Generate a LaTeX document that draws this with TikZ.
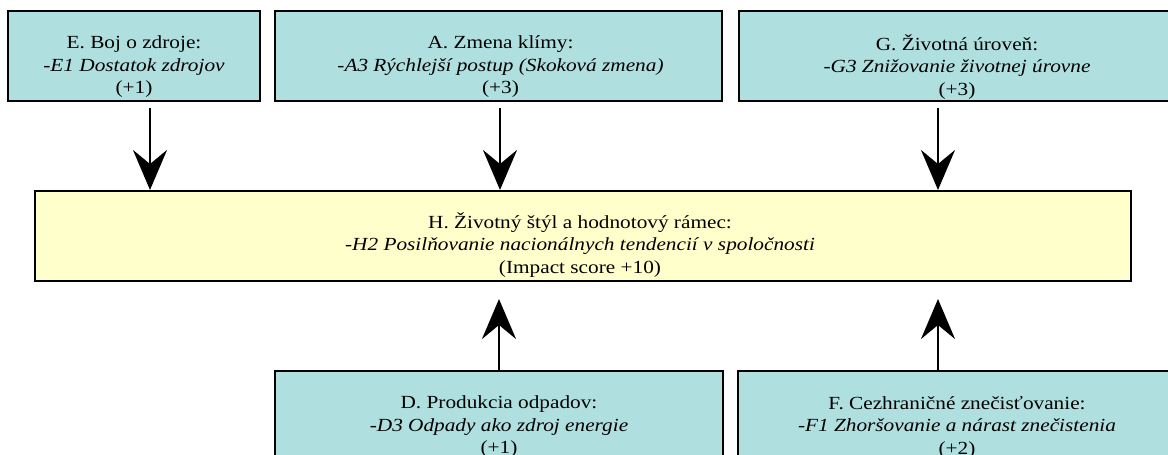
\documentclass[tikz,border=0pt]{standalone}
\usepackage{fontspec}
\setmainfont[FakeStretch=1.15]{Liberation Serif}
\usepackage{tikz}
\usetikzlibrary{arrows.meta,positioning,calc}
\definecolor{factor}{HTML}{B0DFDF}
\definecolor{core}{HTML}{FFFFCC}
\tikzset{
  factorbox/.style={draw=black, line width=2pt, fill=factor, minimum height=90pt, inner sep=0pt},
  corebox/.style={draw=black, line width=2pt, fill=core, minimum height=90pt, inner sep=0pt},
  boxtext/.style={align=center, inner sep=0pt, font=\fontsize{18.5}{22.5}\selectfont},
  impactarr/.style={-{Stealth[length=40pt, width=34pt, inset=14pt]}, line width=2.6pt}
}

\begin{document}
\begin{tikzpicture}[x=1pt, y=1pt]
  \useasboundingbox (0,0) rectangle (1168,-455);
  \clip (0,0) rectangle (1168,-455);
  % Upper factors
  \node[factorbox, minimum width=252pt] (e) at (134,-56) {};
  \node[factorbox, minimum width=447pt] (a) at (498.5,-56) {};
  \node[factorbox, minimum width=436pt] (g) at (957,-56) {};
  \node[boxtext] (etext) at ([yshift=-11pt]e.center) {E. Boj o zdroje:\\ \textit{-E1 Dostatok zdrojov}\\ (+1)};
  \node[boxtext] (atext) at ([xshift=2pt,yshift=-11pt]a.center) {A. Zmena klímy:\\ \textit{-A3 Rýchlejší postup (Skoková zmena)}\\ (+3)};
  \node[boxtext] (gtext) at ([yshift=-11pt]g.center) {G. Životná úroveň:\\ \textit{-G3 Znižovanie životnej úrovne}\\ (+3)};

  % Core (H)
  \node[corebox, minimum width=1096pt] (h) at (583,-236) {};
  \node[boxtext] (htext) at ([xshift=-3pt,yshift=-9pt]h.center) {H. Životný štýl a hodnotový rámec:\\ \textit{-H2 Posilňovanie nacionálnych tendencií v spoločnosti}\\ (Impact score +10)};

  % Lower factors
  \node[factorbox, minimum width=448pt] (d) at (499,-416) {};
  \node[factorbox, minimum width=438pt] (f) at (957,-416) {};
  \node[boxtext] (dtext) at ([yshift=-11pt]d.center) {D. Produkcia odpadov:\\ \textit{-D3 Odpady ako zdroj energie}\\ (+1)};
  \node[boxtext] (ftext) at ([yshift=-11pt]f.center) {F. Cezhraničné znečisťovanie:\\ \textit{-F1 Zhoršovanie a nárast znečistenia}\\ (+2)};

  % Arrows into H
  \coordinate (eout) at ([xshift=16pt,yshift=-6pt]e.south);
  \coordinate (aout) at ([xshift=1.5pt,yshift=-6pt]a.south);
  \coordinate (gout) at ([xshift=-19pt,yshift=-6pt]g.south);
  \draw[impactarr] (eout) -- (eout |- h.north);
  \draw[impactarr] (aout) -- (aout |- h.north);
  \draw[impactarr] (gout) -- (gout |- h.north);

  \coordinate (fout) at ([xshift=-19pt]f.north);
  \coordinate (din) at ($(h.south -| d.north)+(0,-17)$);
  \coordinate (fin) at ($(h.south -| fout)+(0,-17)$);
  \draw[impactarr] (d.north) -- (din);
  \draw[impactarr] (fout) -- (fin);
\end{tikzpicture}
\end{document}
